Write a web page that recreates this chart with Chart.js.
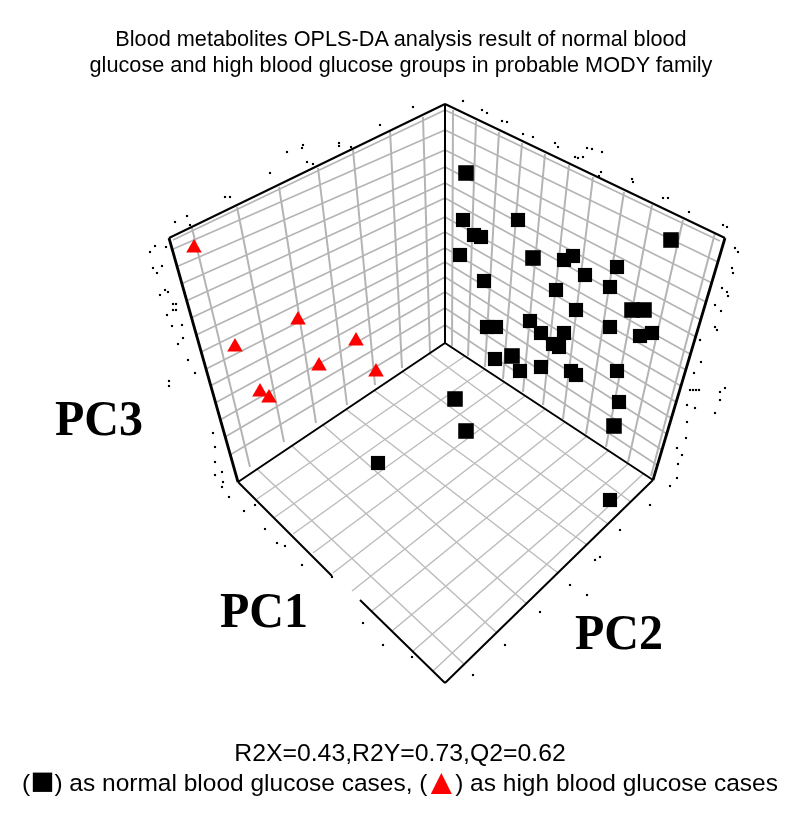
<!DOCTYPE html>
<html><head><meta charset="utf-8">
<style>
html,body{margin:0;padding:0;background:#fff;width:800px;height:819px;overflow:hidden}
#wrap{position:relative;width:800px;height:819px}
canvas{position:absolute;left:0;top:0}
.t{position:absolute;white-space:nowrap;font-family:"Liberation Sans",Arial,sans-serif;color:#000;transform:translateX(-50%);text-align:center}
.pc{position:absolute;white-space:nowrap;font-family:"Liberation Serif",serif;font-weight:bold;color:#000;font-size:48px;line-height:48px;transform-origin:0 0;transform:scaleY(1.05)}
.red{color:#f00}
.g{line-height:0;vertical-align:-3px}
</style></head><body>
<div id="wrap">
<canvas id="c" width="800" height="819"></canvas>
<div class="t" style="left:401px;top:26px;font-size:21.7px;line-height:25.5px">Blood metabolites OPLS-DA analysis result of normal blood<br>glucose and high blood glucose groups in probable MODY family</div>
<div class="pc" style="left:55px;top:393px">PC3</div>
<div class="pc" style="left:220px;top:585px">PC1</div>
<div class="pc" style="left:575px;top:607px">PC2</div>
<div class="t" style="left:400px;top:739px;font-size:24.8px;line-height:28px">R2X=0.43,R2Y=0.73,Q2=0.62</div>
<div class="t" style="left:400px;top:768px;font-size:24.5px;line-height:30px">(<span class="g" style="font-size:40px">■</span>) as normal blood glucose cases, (<span class="g red" style="font-size:36px;margin:0 -4px 0 -4px">▲</span>) as high blood glucose cases</div>
</div>
<script src="https://cdn.jsdelivr.net/npm/chart.js@4"></script>
<script>
// Marks (picture coordinates)
const normalX=[466,463,474,481,460,518,533,564,573,617,585,484,610,556,576,671,632,644,610,530,541,564,640,652,487,496,553,559,495,512,520,541,571,576,617,619,614,455,466,610,378];
const normalY=[173,220,235,237,255,220,258,260,256,267,275,281,287,290,310,240,310,310,327,321,333,333,336,333,327,327,344,347,359,356,371,367,371,375,371,402,426,399,431,500,463];
const normalLarge=[466,671,455,466,614,533,632,644,512];
const highX=[194,235,298,356,319,376,260,269];
const highY=[248,347,320,341,366,372,392,398];

// Box frame
const frameX1=[169,445,445,445,445,238,360,445];
const frameY1=[238,104,104,343,343,482,600,683];
const frameX2=[445,725,445,238,653,332,445,653];
const frameY2=[104,238,343,482,480,576,683,480];
const sideX1=[169,725];
const sideY1=[238,238];
const sideX2=[238,653];
const sideY2=[482,480];

// Left wall grid
const lwColTopX=[192,237,279,318,353,390,423];
const lwColTopY=[228,207,187,168,150,130,117];
const lwColBotX=[250,284,316,347,375,402,430];
const lwColBotY=[467,442,423,405,385,368,353];
const lwRowLeftX=[173,171,176,181,186,191,196,201,206,210,215,220,225,230];
const lwRowLeftY=[240,250,267,284,301,318,335,352,369,386,403,420,437,455];
const backRowY=[110,130,150,167,183,198,217,232,248,262,277,292,308,325];
const backRowX=[445,445,445,445,445,445,445,445,445,445,445,445,445,445];

// Right wall grid
const rwColTopX=[453,476,499,522,545,569,593,624,652,683,715];
const rwColTopY=[110,121,132,143,154,165,177,192,205,220,233];
const rwColBotX=[452,468,485,503,523,543,563,586,606,628,651];
const rwColBotY=[346,356,367,379,392,405,419,434,447,462,476];
const rwRowRightX=[720,718,712,706,701,696,690,686,681,676,671,667,662,657];
const rwRowRightY=[241,262,283,302,320,337,354,370,386,402,418,434,450,465];

// Floor grid
const flAX1=[257,275,293,313,333,352,372,392,413,433];
const flAY1=[499,517,534,553,573,591,611,631,651,671];
const flAX2=[465,485,505,525,545,565,587,608,628,643];
const flAY2=[356,369,382,396,409,422,436,451,464,474];
const flBX1=[257,292,323,347,375,403,430];
const flBY1=[469,446,425,410,391,372,354];
const flBX2=[465,497,527,558,587,608,631];
const flBY2=[665,633,604,573,545,524,502];

// Stray specks around the frame
const speckX=[463,413,482,487,502,507,380,303,302,287,339,339,351,307,313,523,533,555,558,587,592,602,575,578,583,601,599,632,633,663,668,689,723,727,225,230,187,175,190,270,155,150,166,153,157,162,165,168,160,173,176,173,176,167,182,172,183,178,188,195,169,169,213,215,215,215,222,222,223,229,244,255,265,277,285,302,332,735,738,732,733,722,727,728,715,721,715,717,700,701,694,690,693,696,699,725,720,720,715,695,687,687,686,677,682,678,677,670,650,620,595,600,570,587,540,505,473,383,363,412];
const speckY=[101,107,110,113,121,122,125,145,148,152,143,146,147,162,164,134,137,143,147,148,149,152,157,158,157,172,176,179,182,198,198,212,225,227,197,197,216,222,225,173,246,252,247,268,273,266,290,292,295,304,304,310,310,315,325,326,338,344,360,373,381,386,433,447,462,475,472,487,482,497,511,505,529,543,546,565,577,248,252,268,273,288,292,296,305,311,327,330,340,362,373,390,390,390,390,388,392,400,413,408,405,422,438,448,455,464,478,486,505,530,560,557,585,595,612,645,675,645,623,657];

const seg=(x1,y1,x2,y2)=>x1.flatMap((x,i)=>[{x,y:y1[i]},{x:x2[i],y:y2[i]},{x:null,y:null}]);
const pts=(x,y)=>x.map((v,i)=>({x:v,y:y[i]}));
const line=(data,color,width)=>({data,showLine:true,borderColor:color,borderWidth:width,pointRadius:0,spanGaps:false,tension:0});

const isLarge=ctx=>normalLarge.includes(normalX[ctx.dataIndex]);
new Chart(document.getElementById('c'),{
  type:'scatter',
  data:{datasets:[
    {label:'high blood glucose',data:pts(highX,highY),pointStyle:'triangle',pointRadius:9,pointBackgroundColor:'#ff0000',pointBorderWidth:0},
    {label:'normal blood glucose',data:pts(normalX,normalY),pointStyle:'rect',
      pointRadius:ctx=>isLarge(ctx)?11:10,pointBackgroundColor:'#000',pointBorderWidth:0},
    {label:'specks',data:pts(speckX,speckY),pointStyle:'rect',pointRadius:1.5,pointBackgroundColor:'#000',pointBorderWidth:0},
    line(seg(frameX1,frameY1,frameX2,frameY2),'#000',2),
    line(seg(sideX1,sideY1,sideX2,sideY2),'#000',2.8),
    line(seg(lwColTopX,lwColTopY,lwColBotX,lwColBotY),'#b4b4b4',2),
    line(seg(lwRowLeftX,lwRowLeftY,backRowX,backRowY),'#b4b4b4',1.6),
    line(seg(rwColTopX,rwColTopY,rwColBotX,rwColBotY),'#b4b4b4',2),
    line(seg(backRowX,backRowY,rwRowRightX,rwRowRightY),'#b4b4b4',1.6),
    line(seg(flAX1,flAY1,flAX2,flAY2),'#bcbcbc',1.5),
    line(seg(flBX1,flBY1,flBX2,flBY2),'#bcbcbc',1.5)
  ]},
  options:{
    responsive:false,animation:false,
    layout:{padding:0,autoPadding:false},
    plugins:{legend:{display:false},tooltip:{enabled:false},title:{display:false}},
    scales:{
      x:{type:'linear',min:0,max:800,display:false},
      y:{type:'linear',min:0,max:819,reverse:true,display:false}
    }
  }
});
</script>
</body></html>
